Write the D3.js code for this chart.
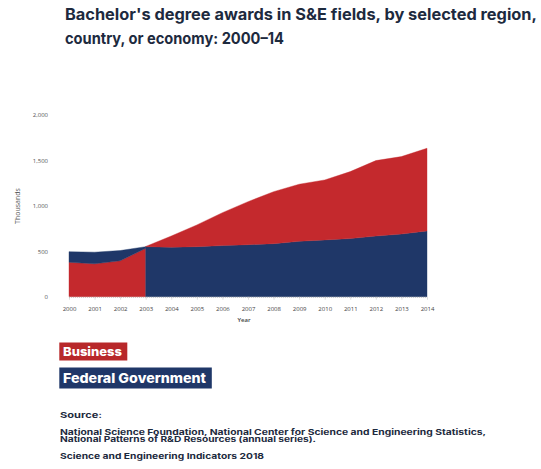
<!DOCTYPE html>
<html>
<head>
<meta charset="utf-8">
<script src="https://cdn.jsdelivr.net/npm/d3@7"></script>
<style>
  html, body { margin: 0; padding: 0; background: #fff; }
  svg { display: block; }
</style>
</head>
<body>
<svg id="chart" width="541" height="469"></svg>
<script>
// Awards in thousands. Stack order changes in 2003: business sits under
// federal before, federal sits under business after.
const earlyYears = [2000, 2001, 2002, 2003];
const earlyBusiness = [379, 362, 395, 533];
const earlyFederal = [117, 128, 113, 18];

const lateYears = [2003, 2004, 2005, 2006, 2007, 2008, 2009, 2010, 2011, 2012, 2013, 2014];
const lateFederal = [551, 545, 551, 563, 573, 584, 610, 625, 640, 668, 690, 724];
const lateBusiness = [2, 123, 239, 362, 473, 572, 628, 660, 737, 830, 852, 910];

const yTicks = [0, 500, 1000, 1500, 2000];
const xTicks = [2000, 2001, 2002, 2003, 2004, 2005, 2006, 2007, 2008, 2009, 2010, 2011, 2012, 2013, 2014];

const titleLines = [
  "Bachelor's degree awards in S&E fields, by selected region,",
  "country, or economy: 2000\u201314"
];
const legendItems = ["Business", "Federal Government"];
const sourceLines = [
  "Source:",
  "National Science Foundation, National Center for Science and Engineering Statistics,",
  "National Patterns of R&D Resources (annual series).",
  "Science and Engineering Indicators 2018"
];

const RED = "#c4292d";
const BLUE = "#1f3768";
const INK = "#1d2a3e";
const FONT = "Inter, 'Open Sans', sans-serif";

const svg = d3.select("#chart");

// Title
const title = svg.append("g").attr("font-family", FONT).attr("font-weight", 700)
  .attr("fill", INK).attr("font-size", 15.5);
title.append("text").attr("x", 65).attr("y", 20)
  .attr("textLength", 472).attr("lengthAdjust", "spacingAndGlyphs").text(titleLines[0]);
title.append("text").attr("x", 65).attr("y", 43.5)
  .attr("textLength", 219).attr("lengthAdjust", "spacingAndGlyphs").text(titleLines[1]);

// Scales
const x = d3.scaleLinear().domain([2000, 2014]).range([69, 427]);
const y = d3.scaleLinear().domain([0, 2000]).range([296.7, 115]);

function rows(years, keys, arrays) {
  return years.map((yr, i) => {
    const r = { year: yr };
    keys.forEach((k, j) => r[k] = arrays[j][i]);
    return r;
  });
}

const area = d3.area()
  .x(d => x(d.data.year))
  .y0(d => y(d[0]))
  .y1(d => y(d[1]));

const colour = { business: RED, federal: BLUE };

const early = d3.stack().keys(["business", "federal"])
  (rows(earlyYears, ["business", "federal"], [earlyBusiness, earlyFederal]));
const late = d3.stack().keys(["federal", "business"])
  (rows(lateYears, ["business", "federal"], [lateBusiness, lateFederal]));

const plot = svg.append("g");
[...early, ...late].forEach(layer => {
  plot.append("path")
    .attr("d", area(layer))
    .attr("fill", colour[layer.key])
    .attr("stroke", colour[layer.key])
    .attr("stroke-width", 0.4);
});

// Baseline
svg.append("line")
  .attr("x1", x(2000)).attr("x2", x(2014))
  .attr("y1", y(0) + 0.5).attr("y2", y(0) + 0.5)
  .attr("stroke", "#999").attr("stroke-width", 0.6).attr("stroke-dasharray", "1,1");

// Y axis
const yAxis = svg.append("g")
  .attr("transform", "translate(48,0)")
  .call(d3.axisLeft(y).tickValues(yTicks).tickSize(0).tickFormat(d3.format(",")));
yAxis.select(".domain").remove();
yAxis.selectAll("text")
  .attr("font-family", "'Open Sans', sans-serif").attr("font-size", 6)
  .attr("fill", "#555").attr("x", 0);

// X axis
const xAxis = svg.append("g")
  .attr("transform", `translate(0,${y(0)})`)
  .call(d3.axisBottom(x).tickValues(xTicks).tickSize(3).tickPadding(7).tickFormat(d3.format("d")));
xAxis.select(".domain").remove();
xAxis.selectAll("line").attr("stroke", "#bbb").attr("stroke-width", 0.5);
xAxis.selectAll("text")
  .attr("font-family", "'Open Sans', sans-serif").attr("font-size", 6)
  .attr("fill", "#444");

// Axis titles
svg.append("text")
  .attr("x", (x(2000) + x(2014)) / 2 - 4).attr("y", 322)
  .attr("text-anchor", "middle")
  .attr("font-family", "'Open Sans', sans-serif").attr("font-size", 6)
  .attr("font-weight", 600).attr("fill", "#444").text("Year");
svg.append("text")
  .attr("transform", "translate(20,206) rotate(-90)")
  .attr("text-anchor", "middle")
  .attr("font-family", "'Open Sans', sans-serif").attr("font-size", 7)
  .attr("fill", "#555").text("Thousands");

// Legend as coloured label boxes
const legendSpec = [
  { label: legendItems[0], fill: "#b8282a", y: 342.5, h: 18, w: 68, fs: 12, tl: 59 },
  { label: legendItems[1], fill: BLUE, y: 367.5, h: 21, w: 152.5, fs: 13.5, tl: 143 }
];
const legend = svg.append("g");
legendSpec.forEach(s => {
  legend.append("rect").attr("x", 59.3).attr("y", s.y)
    .attr("width", s.w).attr("height", s.h).attr("fill", s.fill);
  legend.append("text").attr("x", 63).attr("y", s.y + s.h / 2 + s.fs * 0.36)
    .attr("font-family", FONT).attr("font-weight", 800).attr("font-size", s.fs)
    .attr("fill", "#fff").attr("textLength", s.tl).attr("lengthAdjust", "spacingAndGlyphs")
    .text(s.label);
});

// Source notes
const src = svg.append("g").attr("font-family", FONT).attr("font-weight", 700)
  .attr("fill", INK);
const srcPos = [
  { y: 417.5, w: 42, fs: 8 },
  { y: 434.5, w: 426, fs: 7.6 },
  { y: 442.3, w: 256, fs: 7.6 },
  { y: 458.5, w: 204, fs: 8 }
];
sourceLines.forEach((t, i) => {
  src.append("text").attr("x", 60).attr("y", srcPos[i].y)
    .attr("font-size", srcPos[i].fs)
    .attr("textLength", srcPos[i].w).attr("lengthAdjust", "spacingAndGlyphs").text(t);
});
</script>
</body>
</html>
